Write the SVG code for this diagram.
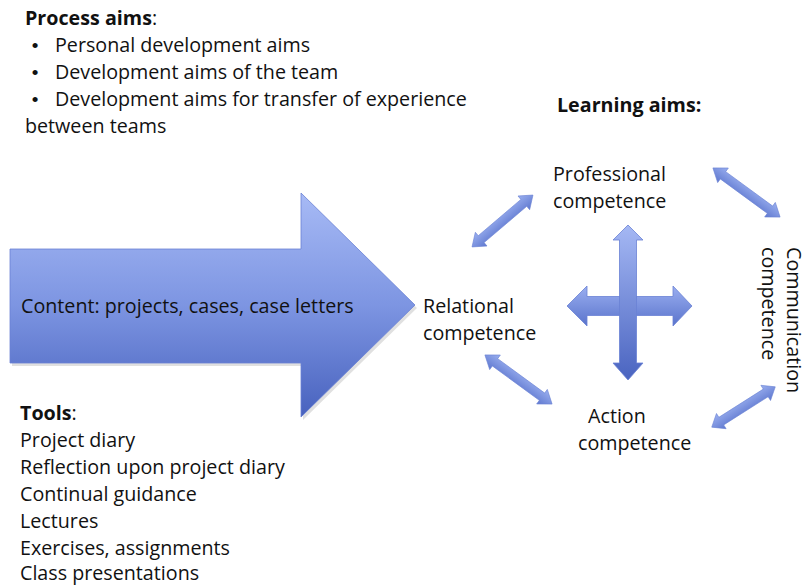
<svg xmlns="http://www.w3.org/2000/svg" width="807" height="587" viewBox="0 0 807 587">
<defs>
<style>
text{font-family:"Open Sans","Noto Sans","Liberation Sans",sans-serif;font-size:19.7px;fill:#111}
.b{font-weight:bold}
.bul{font-family:"Liberation Sans",Arial,sans-serif;font-size:19px}
.shape{stroke:#6a82d4;stroke-width:0.8}
</style>
<linearGradient id="gBig" x1="0" y1="0" x2="0" y2="1">
<stop offset="0" stop-color="#a7baf5"/>
<stop offset="0.5" stop-color="#7d95e2"/>
<stop offset="1" stop-color="#4862be"/>
</linearGradient>
<linearGradient id="gV" x1="0" y1="0" x2="0" y2="1">
<stop offset="0" stop-color="#a5b8f4"/>
<stop offset="1" stop-color="#4a64c0"/>
</linearGradient>
<linearGradient id="gH" x1="0" y1="0" x2="0" y2="1">
<stop offset="0" stop-color="#9aaef0"/>
<stop offset="1" stop-color="#5a74cc"/>
</linearGradient>
<linearGradient id="gS" x1="0" y1="0" x2="0" y2="1">
<stop offset="0" stop-color="#9bb0f0"/>
<stop offset="1" stop-color="#5f78cf"/>
</linearGradient>
<polygon id="dbl" points="-40,0 -28,-9 -28,-4.5 28,-4.5 28,-9 40,0 28,9 28,4.5 -28,4.5 -28,9" fill="url(#gS)" stroke="#6a82d4" stroke-width="0.6"/>
</defs>
<rect width="807" height="587" fill="#ffffff"/>

<g id="process-aims">
<text x="25" y="25"><tspan class="b">Process aims</tspan>:</text>
<text x="55" y="52"><tspan class="bul" x="35" text-anchor="middle">•</tspan><tspan x="55">Personal development aims</tspan></text>
<text x="55" y="79"><tspan class="bul" x="35" text-anchor="middle">•</tspan><tspan x="55">Development aims of the team</tspan></text>
<text x="55" y="106"><tspan class="bul" x="35" text-anchor="middle">•</tspan><tspan x="55">Development aims for transfer of experience</tspan></text>
<text x="25" y="133">between teams</text>
</g>

<g id="content-arrow">
<polygon points="12,252 303,252 303,196 417,308 303,420 303,366 12,366" fill="#000" opacity="0.12"/>
<polygon class="shape" points="10,249 301,249 301,193 415,305 301,417 301,363 10,363" fill="url(#gBig)"/>
<text x="21" y="313">Content: projects, cases, case letters</text>
</g>

<g id="tools">
<text x="20" y="420"><tspan class="b">Tools</tspan>:</text>
<text x="20" y="447">Project diary</text>
<text x="20" y="474">Reflection upon project diary</text>
<text x="20" y="501">Continual guidance</text>
<text x="20" y="528">Lectures</text>
<text x="20" y="555">Exercises, assignments</text>
<text x="20" y="580">Class presentations</text>
</g>

<g id="learning-aims">
<text class="b" x="557" y="112">Learning aims:</text>
</g>

<g id="professional">
<text x="553" y="181">Professional</text>
<text x="553" y="208">competence</text>
</g>

<g id="relational">
<text x="423" y="313">Relational</text>
<text x="423" y="340">competence</text>
</g>

<g id="action">
<text x="588" y="423">Action</text>
<text x="578" y="450">competence</text>
</g>

<g id="communication">
<text transform="translate(787,247) rotate(90)">Communication</text>
<text transform="translate(762,247) rotate(90)">competence</text>
</g>

<g id="connectors">
<g id="cross">
<polygon class="shape" points="567,306 587,286 587,296.5 673,296.5 673,286 692,306 673,326 673,315.5 587,315.5 587,326" fill="url(#gH)"/>
<polygon class="shape" points="628,225 643,240 636.5,240 636.5,363 643,363 628,380 613,363 619.5,363 619.5,240 613,240" fill="url(#gV)"/>
</g>
<use href="#dbl" transform="translate(502.5,221) rotate(-40.4)"/>
<use href="#dbl" transform="translate(746.5,192.5) rotate(36.2) scale(1.04,1)"/>
<use href="#dbl" transform="translate(518.5,379.5) rotate(36.2) scale(1.04,1)"/>
<use href="#dbl" transform="translate(743.5,407) rotate(-32.4) scale(0.94,1)"/>
</g>
</svg>
